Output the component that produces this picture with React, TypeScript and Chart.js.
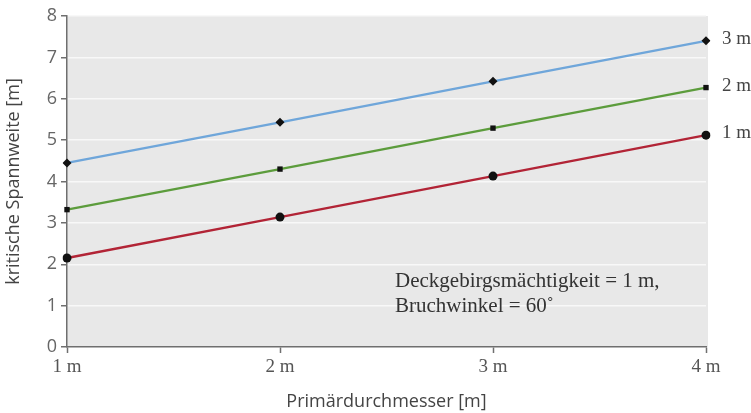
import React, { useEffect, useRef } from "react";
import { Chart, registerables } from "chart.js";

Chart.register(...registerables);

const categories = ["1 m", "2 m", "3 m", "4 m"];
const seriesLabels = ["3 m", "2 m", "1 m"];
const series3m = [4.45, 5.43, 6.42, 7.4];
const series2m = [3.32, 4.3, 5.29, 6.27];
const series1m = [2.15, 3.14, 4.13, 5.12];
const yTicks = [0, 1, 2, 3, 4, 5, 6, 7, 8];
const noteLines = ["Deckgebirgsmächtigkeit = 1 m,", "Bruchwinkel = 60˚"];
const notePos = { x: 2.54, y: 1.45 };

const SANS = "'Open Sans', 'Noto Sans', sans-serif";
const SERIF = "'Liberation Serif', 'DejaVu Serif', serif";

export default function App() {
  const ref = useRef<HTMLCanvasElement | null>(null);

  useEffect(() => {
    document.body.style.margin = "0";
    const canvas = ref.current;
    if (!canvas) return;

    const bgPlugin = {
      id: "bgPlugin",
      beforeDraw(chart: any) {
        const { ctx, chartArea } = chart;
        ctx.save();
        ctx.fillStyle = "#e8e8e8";
        ctx.fillRect(chartArea.left, chartArea.top, chartArea.right - chartArea.left + 2, chartArea.bottom - chartArea.top);
        ctx.restore();
      },
      afterDraw(chart: any) {
        const { ctx } = chart;
        ctx.save();
        ctx.font = `19px ${SERIF}`;
        ctx.fillStyle = "#444";
        ctx.textAlign = "left";
        ctx.textBaseline = "middle";
        chart.data.datasets.forEach((ds: any, i: number) => {
          const meta = chart.getDatasetMeta(i);
          const pt = meta.data[meta.data.length - 1];
          ctx.fillText(ds.label, pt.x + 16, pt.y - 2);
        });
        const xs = chart.scales.x;
        const ys = chart.scales.y;
        const nx = xs.getPixelForValue(notePos.x - 1);
        const ny = ys.getPixelForValue(notePos.y);
        ctx.font = `21px ${SERIF}`;
        ctx.fillStyle = "#333";
        ctx.textBaseline = "alphabetic";
        ctx.fillText(noteLines[0], nx, ny);
        ctx.fillText(noteLines[1], nx, ny + 25);
        ctx.restore();
      },
    };

    const mk = (label: string, data: number[], color: string, style: string, r: number) => ({
      label,
      data,
      borderColor: color,
      borderWidth: 2.4,
      pointStyle: style,
      pointRadius: r,
      pointBackgroundColor: "#111",
      pointBorderColor: "#111",
      pointBorderWidth: 0,
      tension: 0,
      fill: false,
    });

    const chart = new Chart(canvas, {
      type: "line",
      data: {
        labels: categories,
        datasets: [
          mk(seriesLabels[0], series3m, "#6fa6da", "rectRot", 4.5),
          mk(seriesLabels[1], series2m, "#5c9c3c", "rect", 3.8),
          mk(seriesLabels[2], series1m, "#b22436", "circle", 4.5),
        ],
      },
      options: {
        animation: false,
        responsive: false,
        maintainAspectRatio: false,
        layout: { padding: { left: 3, right: 45, top: 16, bottom: 0 } },
        plugins: {
          legend: { display: false },
          tooltip: { enabled: false },
        },
        scales: {
          x: {
            type: "category",
            offset: false,
            border: { display: true, color: "#6f6f6f", width: 1.5 },
            grid: {
              drawOnChartArea: false,
              drawTicks: true,
              tickLength: 6,
              tickColor: "#6f6f6f",
              tickWidth: 1.5,
            },
            ticks: {
              color: "#555",
              font: { family: SERIF, size: 19 },
              padding: 3,
              maxRotation: 0,
            },
            title: {
              display: true,
              text: "Primärdurchmesser [m]",
              color: "#444",
              font: { family: SANS, size: 18 },
              padding: { top: 10, bottom: 0 },
            },
            afterFit(scale: any) {
              scale.height = 66;
            },
          },
          y: {
            min: 0,
            max: 8,
            afterBuildTicks(scale: any) {
              scale.ticks = yTicks.map((v) => ({ value: v }));
            },
            border: { display: true, color: "#6f6f6f", width: 1.5 },
            grid: {
              drawOnChartArea: true,
              color: (c: any) => (c.tick && c.tick.value === 0 ? "rgba(0,0,0,0)" : "#f8f8f8"),
              lineWidth: 1.5,
              drawTicks: true,
              tickLength: 6,
              tickColor: "#6f6f6f",
              tickWidth: 1.5,
            },
            ticks: {
              color: "#666",
              font: { family: SANS, size: 18 },
              padding: 4,
            },
            title: {
              display: true,
              text: "kritische Spannweite [m]",
              color: "#444",
              font: { family: SANS, size: 18 },
              padding: { top: 0, bottom: 4 },
            },
            afterFit(scale: any) {
              scale.width = 64;
            },
          },
        },
      },
      plugins: [bgPlugin],
    } as any);

    return () => chart.destroy();
  }, []);

  return (
    <div style={{ position: "absolute", left: 0, top: 0, width: 751, height: 413, background: "#fff" }}>
      <canvas ref={ref} width={751} height={413} style={{ width: 751, height: 413 }} />
    </div>
  );
}
